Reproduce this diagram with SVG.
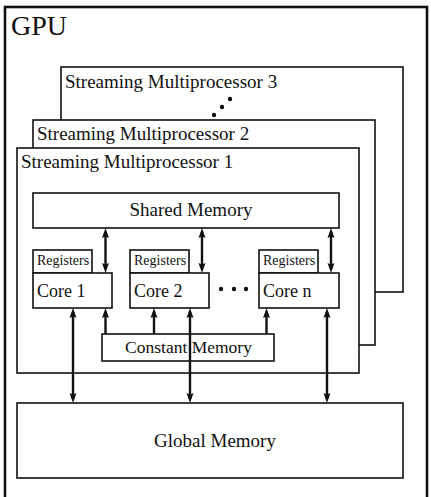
<svg xmlns="http://www.w3.org/2000/svg" width="431" height="497" viewBox="0 0 431 497">
<style>
.box{fill:#fff;stroke:#111;stroke-width:1.6}
.t{font-family:"Liberation Serif","Times New Roman",serif;fill:#111}
.arr{stroke:#111;stroke-width:2.4;fill:none}
</style>
<defs>
<marker id="ah" markerUnits="userSpaceOnUse" markerWidth="11" markerHeight="8" viewBox="0 0 11 8" refX="6" refY="4" orient="auto-start-reverse">
<path d="M0,0.5 L10,4 L0,7.5 L1.5,4 z" fill="#111"/>
</marker>
</defs>
<rect width="431" height="497" fill="#fff"/>
<g id="gpu">
<rect x="5" y="7" width="422" height="500" fill="#fff" stroke="#111" stroke-width="2.6"/>
<text class="t" x="11" y="35" font-size="28">GPU</text>
</g>
<g id="sm3">
<rect class="box" x="61" y="67" width="342" height="225"/>
<text class="t" x="65" y="88" font-size="19">Streaming Multiprocessor 3</text>
<circle cx="214" cy="115" r="2.2" fill="#111"/>
<circle cx="222" cy="107" r="2.2" fill="#111"/>
<circle cx="230" cy="99" r="2.2" fill="#111"/>
</g>
<g id="sm2">
<rect class="box" x="33" y="120" width="342" height="225"/>
<text class="t" x="37" y="140" font-size="19">Streaming Multiprocessor 2</text>
</g>
<g id="sm1">
<rect class="box" x="17" y="148" width="342" height="225"/>
<text class="t" x="21" y="168" font-size="19">Streaming Multiprocessor 1</text>
</g>
<g id="shared">
<rect class="box" x="33" y="193" width="306" height="35"/>
<text class="t" x="191" y="216" font-size="19" text-anchor="middle">Shared Memory</text>
</g>
<g id="core1">
<rect class="box" x="33" y="250" width="59" height="23"/>
<text class="t" x="37" y="265" font-size="14">Registers</text>
<rect class="box" x="33" y="273" width="79" height="35"/>
<text class="t" x="37" y="297" font-size="18">Core 1</text>
</g>
<g id="core2">
<rect class="box" x="130" y="250" width="59" height="23"/>
<text class="t" x="134" y="265" font-size="14">Registers</text>
<rect class="box" x="130" y="273" width="79" height="35"/>
<text class="t" x="134" y="297" font-size="18">Core 2</text>
</g>
<g id="coredots">
<circle cx="221" cy="289" r="2.2" fill="#111"/>
<circle cx="234" cy="289" r="2.2" fill="#111"/>
<circle cx="246" cy="289" r="2.2" fill="#111"/>
</g>
<g id="coren">
<rect class="box" x="259" y="250" width="59" height="23"/>
<text class="t" x="263" y="265" font-size="14">Registers</text>
<rect class="box" x="259" y="273" width="80" height="35"/>
<text class="t" x="263" y="297" font-size="18">Core n</text>
</g>
<g id="constant">
<rect class="box" x="102" y="334" width="172" height="27"/>
<text class="t" x="188.5" y="353" font-size="17.5" text-anchor="middle">Constant Memory</text>
</g>
<g id="global">
<rect class="box" x="17" y="403" width="386" height="75"/>
<text class="t" x="215" y="447" font-size="19" text-anchor="middle">Global Memory</text>
</g>
<g id="connectors" class="arr">
<line x1="105.5" y1="232" x2="105.5" y2="269" marker-start="url(#ah)" marker-end="url(#ah)"/>
<line x1="202" y1="232" x2="202" y2="269" marker-start="url(#ah)" marker-end="url(#ah)"/>
<line x1="331" y1="232" x2="331" y2="269" marker-start="url(#ah)" marker-end="url(#ah)"/>
<line x1="105.5" y1="334" x2="105.5" y2="312" marker-end="url(#ah)"/>
<line x1="154" y1="334" x2="154" y2="312" marker-end="url(#ah)"/>
<line x1="266.5" y1="334" x2="266.5" y2="312" marker-end="url(#ah)"/>
<line x1="73" y1="312" x2="73" y2="399" marker-start="url(#ah)" marker-end="url(#ah)"/>
<line x1="190" y1="312" x2="190" y2="399" marker-start="url(#ah)" marker-end="url(#ah)"/>
<line x1="327" y1="312" x2="327" y2="399" marker-start="url(#ah)" marker-end="url(#ah)"/>
</g>
</svg>
